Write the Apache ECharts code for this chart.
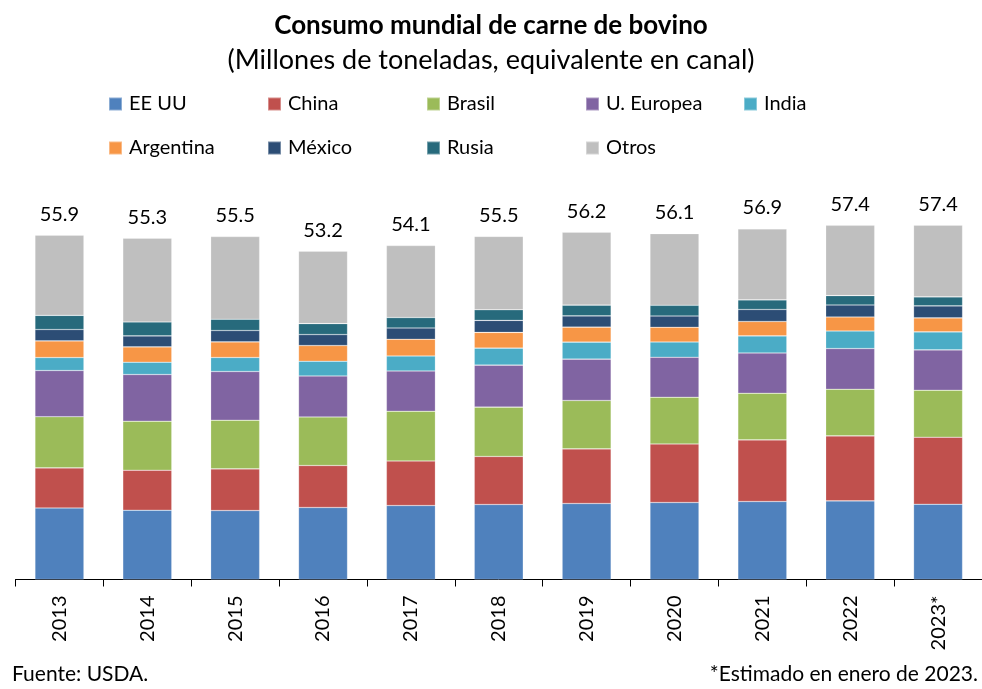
<!DOCTYPE html>
<html>
<head>
<meta charset="utf-8">
<script src="https://cdn.jsdelivr.net/npm/echarts@6/dist/echarts.min.js"></script>
<style>
  html, body { margin: 0; padding: 0; background: #fff; }
  #chart { width: 982px; height: 689px; }
</style>
</head>
<body>
<div id="chart"></div>
<script>
// categories and totals
var years = ['2013', '2014', '2015', '2016', '2017', '2018', '2019', '2020', '2021', '2022', '2023*']
var totals = [55.9, 55.3, 55.5, 53.2, 54.1, 55.5, 56.2, 56.1, 56.9, 57.4, 57.4]

// millones de toneladas
var eeuu = [11.6, 11.24, 11.19, 11.68, 12.0, 12.17, 12.33, 12.49, 12.65, 12.75, 12.21]
var china = [6.5, 6.49, 6.75, 6.81, 7.23, 7.79, 8.86, 9.5, 9.99, 10.54, 10.87]
var brasil = [8.3, 7.95, 7.9, 7.88, 8.06, 8.0, 7.85, 7.57, 7.57, 7.57, 7.62]
var ueuropea = [7.5, 7.57, 7.9, 6.65, 6.54, 6.81, 6.7, 6.49, 6.54, 6.6, 6.54]
var india = [2.1, 2.0, 2.27, 2.38, 2.43, 2.76, 2.76, 2.48, 2.76, 2.85, 2.92]
var argentina = [2.7, 2.48, 2.53, 2.55, 2.71, 2.55, 2.43, 2.38, 2.34, 2.27, 2.27]
var mexico = [1.85, 1.78, 1.85, 1.78, 1.83, 1.95, 1.83, 1.83, 1.95, 1.95, 1.95]
var rusia = [2.3, 2.27, 1.83, 1.78, 1.69, 1.72, 1.74, 1.74, 1.56, 1.52, 1.46]
var otros = [13.0, 13.58, 13.41, 11.73, 11.68, 11.9, 11.84, 11.63, 11.52, 11.4, 11.63]

var names = ['EE UU', 'China', 'Brasil', 'U. Europea', 'India', 'Argentina', 'México', 'Rusia', 'Otros']
var values = [eeuu, china, brasil, ueuropea, india, argentina, mexico, rusia, otros]
var colors = ['#4F81BD', '#C0504D', '#9BBB59', '#8064A2', '#4BACC6', '#F79646', '#2C4D75', '#276A7C', '#BFBFBF']

var font = 'Lato, "Open Sans", sans-serif'

// legend placed item by item so the columns line up
var legendX = [108, 267, 426, 585, 743, 108, 267, 426, 585]
var legendY = [94, 94, 94, 94, 94, 138, 138, 138, 138]
var legends = names.map(function (n, i) {
  return {
    data: [n],
    left: legendX[i],
    top: legendY[i],
    padding: 0,
    icon: 'rect',
    itemWidth: 13,
    itemHeight: 13,
    selectedMode: false,
    textStyle: { fontFamily: font, fontSize: 20, color: '#000', padding: [0, 0, 0, 2] }
  }
})

var series = names.map(function (n, i) {
  var s = {
    name: n,
    type: 'bar',
    stack: 'total',
    barWidth: 49,
    data: values[i],
    itemStyle: { color: colors[i], borderColor: 'rgba(255,255,255,0.35)', borderWidth: 0.6 }
  }
  if (n === 'Otros') {
    s.label = {
      show: true,
      position: 'top',
      distance: 11,
      fontFamily: font,
      fontSize: 20,
      color: '#000',
      formatter: function (p) { return totals[p.dataIndex].toFixed(1) }
    }
  }
  return s
})

var chart = echarts.init(document.getElementById('chart'))
chart.setOption({
  animation: false,
  color: colors,
  title: [{
    text: 'Consumo mundial de carne de bovino',
    left: 'center',
    top: 8,
    textStyle: { fontFamily: font, fontSize: 26, fontWeight: 'bold', color: '#000' }
  }, {
    text: '(Millones de toneladas, equivalente en canal)',
    left: 'center',
    top: 42,
    textStyle: { fontFamily: font, fontSize: 27, fontWeight: 'normal', color: '#000' }
  }],
  legend: legends,
  grid: { left: 15.5, right: -6.4, top: 209.6, bottom: 109.5, containLabel: false },
  xAxis: {
    type: 'category',
    data: years,
    axisLine: { lineStyle: { color: '#000', width: 1 } },
    axisTick: { show: true, length: 7, lineStyle: { color: '#000' } },
    axisLabel: { rotate: 90, margin: 16, fontFamily: font, fontSize: 20, color: '#000' }
  },
  yAxis: {
    type: 'value',
    min: 0,
    max: 60,
    show: false
  },
  graphic: [{
    type: 'text',
    left: 12,
    top: 664,
    style: { text: 'Fuente: USDA.', font: '21px ' + font, fill: '#000' }
  }, {
    type: 'text',
    right: 4,
    top: 664,
    style: { text: '*Estimado en enero de 2023.', font: '21px ' + font, fill: '#000' }
  }],
  series: series
})
</script>
</body>
</html>
